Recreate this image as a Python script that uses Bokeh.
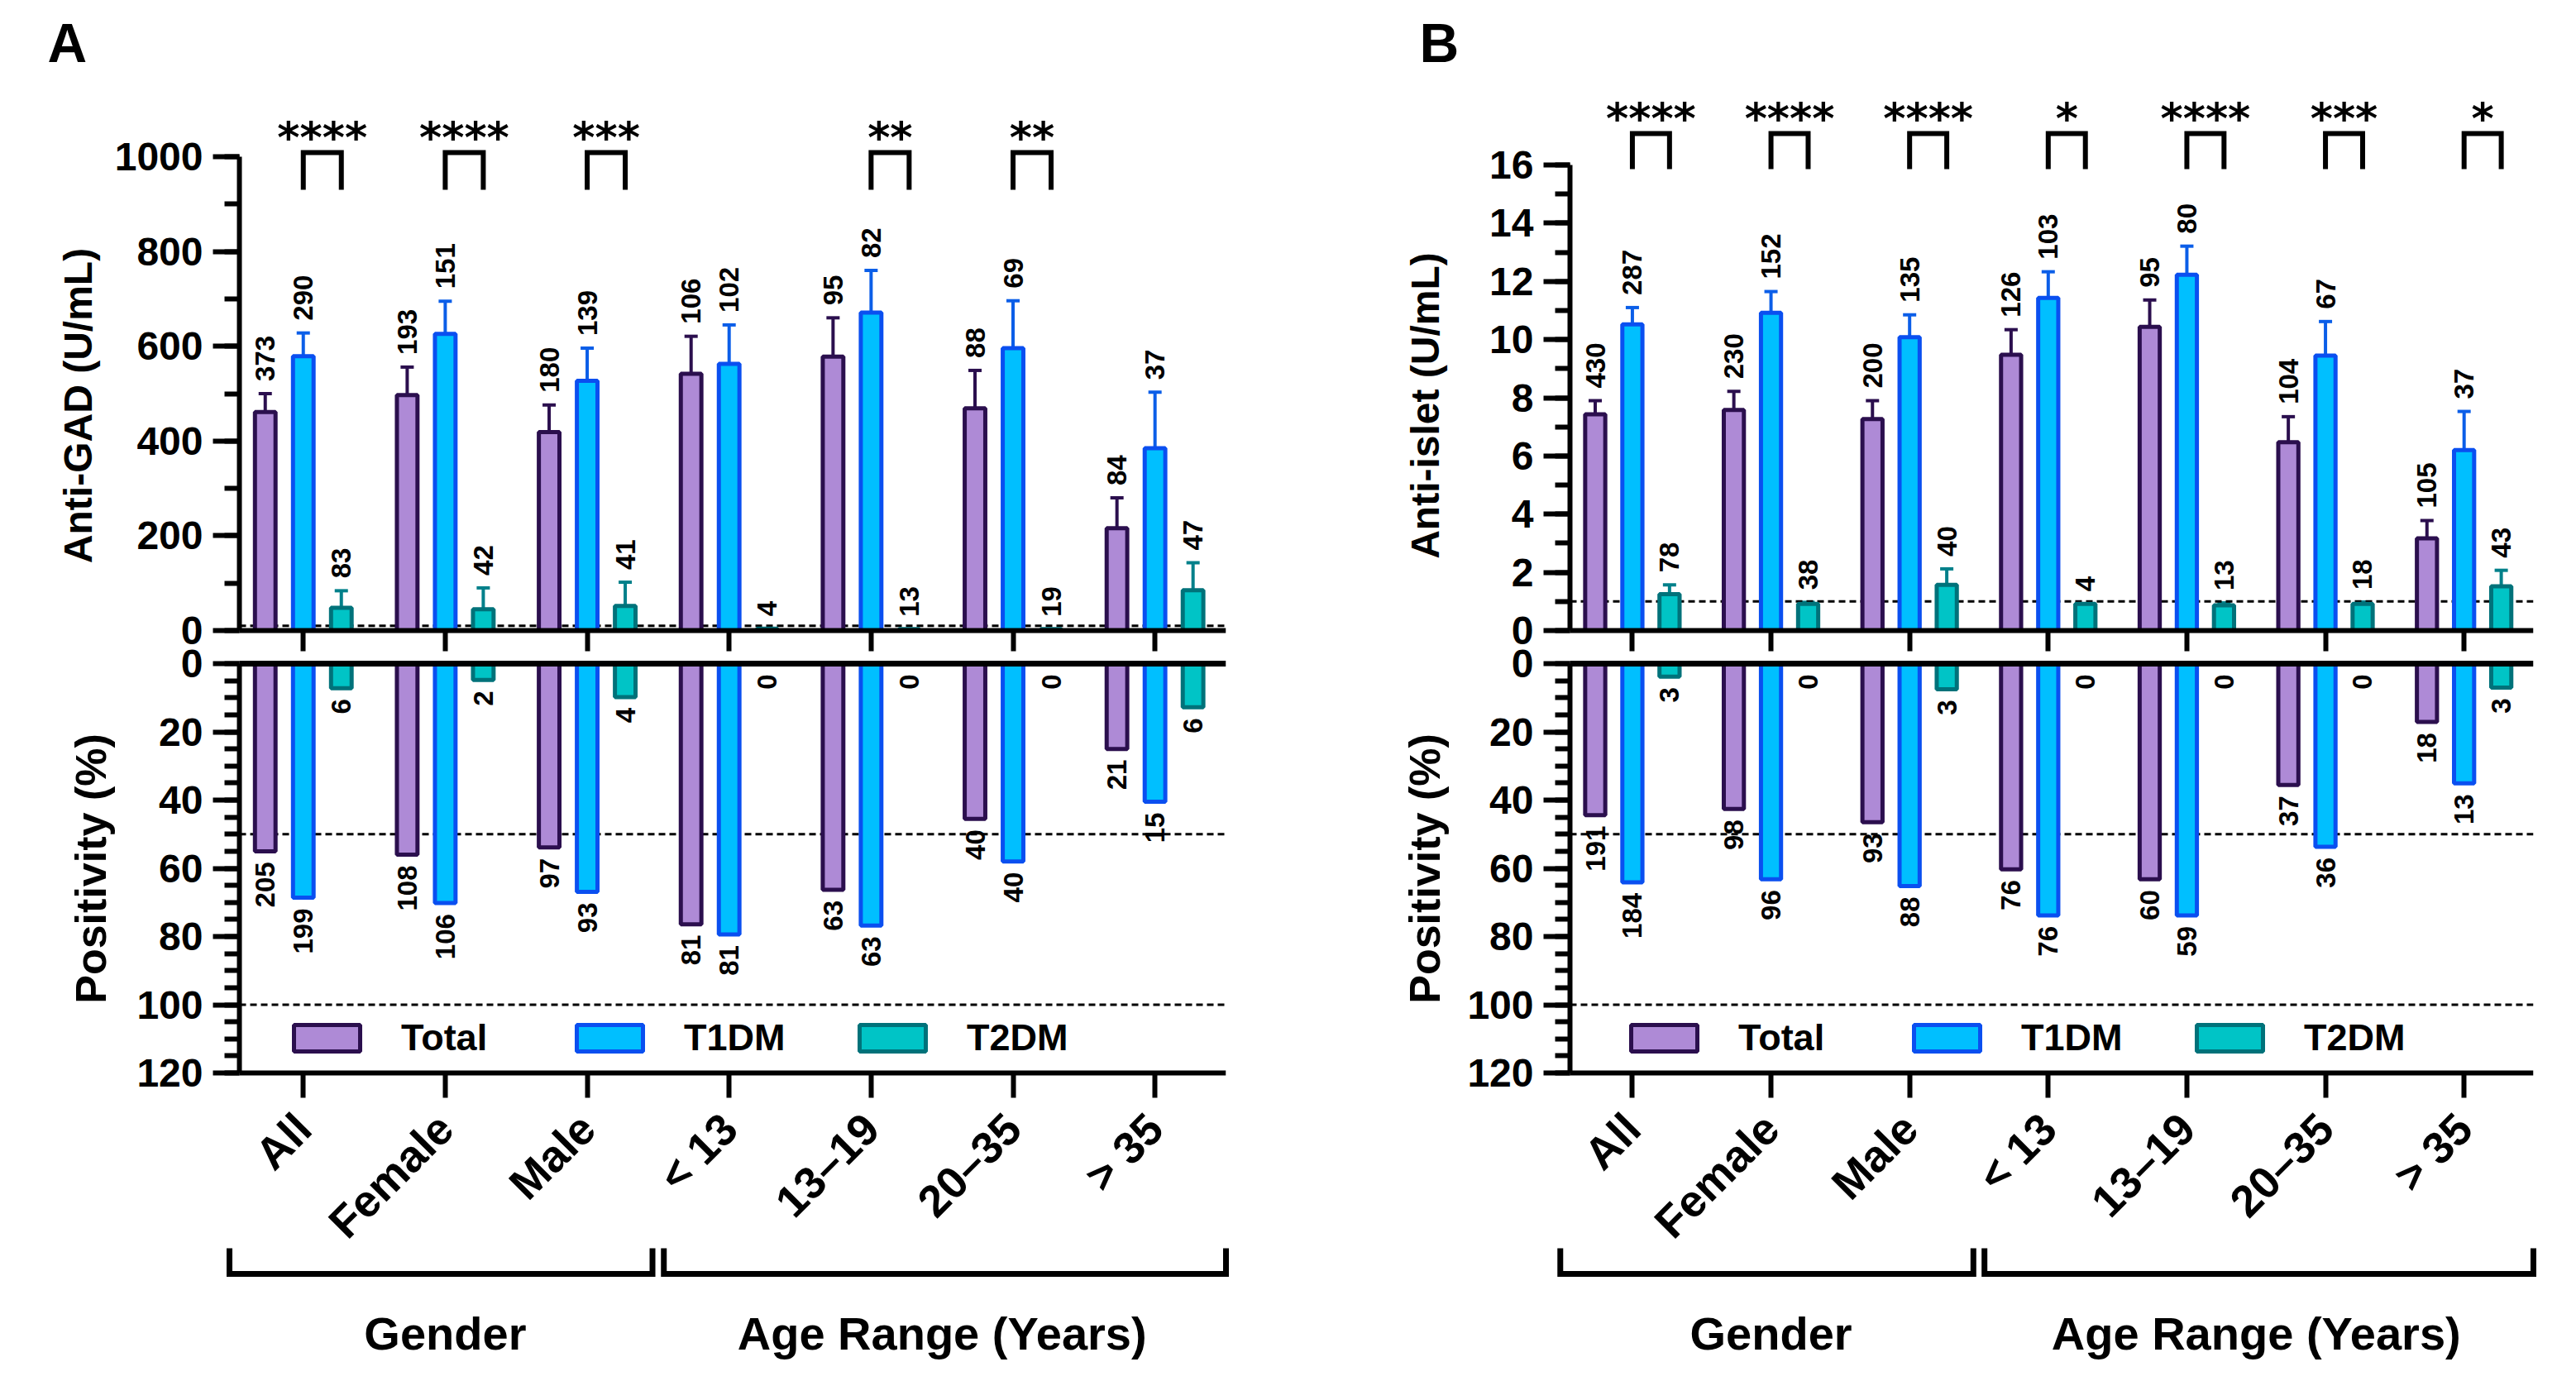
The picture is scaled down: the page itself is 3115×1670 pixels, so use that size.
import math
import numpy as np
from bokeh.plotting import figure
from bokeh.models import (ColumnDataSource, Range1d, FixedTicker, SingleIntervalTicker,
                          LinearAxis, Whisker, TeeHead, CustomLabelingPolicy)
from bokeh.layouts import row
from bokeh.core.properties import value
from bokeh.embed import file_html
from bokeh.resources import INLINE

# ---------------- data ----------------
categories = ["All", "Female", "Male", "< 13", "13–19", "20–35", "> 35"]
group_names = ["Gender", "Age Range (Years)"]
group_first = [0, 3]
group_last = [2, 6]
series = ["Total", "T1DM", "T2DM"]

# Panel A: Anti-GAD (U/mL), mean and SEM
gad_total = [461, 497, 419, 542, 578, 469, 216]
gad_total_sem = [39, 59, 57, 79, 82, 80, 64]
gad_t1 = [579, 626, 527, 563, 671, 596, 385]
gad_t1_sem = [49, 69, 69, 82, 89, 100, 118]
gad_t2 = [48, 45, 52, 4, 3, 3, 85]
gad_t2_sem = [36, 45, 50, 0, 0, 0, 58]
gad_n_total = [373, 193, 180, 106, 95, 88, 84]
gad_n_t1 = [290, 151, 139, 102, 82, 69, 37]
gad_n_t2 = [83, 42, 41, 4, 13, 19, 47]
gad_cutoff = 10
gad_stars = ["****", "****", "***", "", "**", "**", ""]

# Panel A: positivity (%)
gad_pos_total = [55.0, 56.0, 53.9, 76.4, 66.3, 45.5, 25.0]
gad_pos_t1 = [68.6, 70.2, 66.9, 79.4, 76.8, 58.0, 40.5]
gad_pos_t2 = [7.2, 4.8, 9.8, 0, 0, 0, 12.8]
gad_pos_n_total = [205, 108, 97, 81, 63, 40, 21]
gad_pos_n_t1 = [199, 106, 93, 81, 63, 40, 15]
gad_pos_n_t2 = [6, 2, 4, 0, 0, 0, 6]

# Panel B: Anti-islet (U/mL), mean and SEM
isl_total = [7.43, 7.58, 7.27, 9.48, 10.44, 6.47, 3.17]
isl_total_sem = [0.47, 0.64, 0.63, 0.86, 0.92, 0.88, 0.61]
isl_t1 = [10.52, 10.92, 10.08, 11.43, 12.23, 9.45, 6.20]
isl_t1_sem = [0.58, 0.73, 0.77, 0.90, 0.98, 1.17, 1.33]
isl_t2 = [1.25, 0.92, 1.57, 0.92, 0.87, 0.92, 1.52]
isl_t2_sem = [0.32, 0.05, 0.55, 0.0, 0.08, 0.06, 0.55]
isl_n_total = [430, 230, 200, 126, 95, 104, 105]
isl_n_t1 = [287, 152, 135, 103, 80, 67, 37]
isl_n_t2 = [78, 38, 40, 4, 13, 18, 43]
isl_cutoff = 1
isl_stars = ["****", "****", "****", "*", "****", "***", "*"]

# Panel B: positivity (%)
isl_pos_total = [44.4, 42.6, 46.5, 60.3, 63.2, 35.6, 17.1]
isl_pos_t1 = [64.1, 63.2, 65.2, 73.8, 73.8, 53.7, 35.1]
isl_pos_t2 = [3.8, 0, 7.5, 0, 0, 0, 7.0]
isl_pos_n_total = [191, 98, 93, 76, 60, 37, 18]
isl_pos_n_t1 = [184, 96, 88, 76, 59, 36, 13]
isl_pos_n_t2 = [3, 0, 3, 0, 0, 0, 3]

# ---------------- style ----------------
FONT = "Liberation Sans"
FILL = {"Total": "#AE8AD6", "T1DM": "#00BFFF", "T2DM": "#00C4C6"}
EDGE = {"Total": "#2B0F4E", "T1DM": "#0A4FF0", "T2DM": "#00727A"}
ERRC = {"Total": "#2B0F4E", "T1DM": "#0B5EE8", "T2DM": "#00808A"}
OFFS = {"Total": -0.268, "T1DM": 0.0, "T2DM": 0.268}
BAR_W = 0.145
XR = (-0.45, 6.5)          # category span between the y axis and the right end

# vertical layout in page pixels
PAGE_TOP = 8
FRAME_TOP, TOP_ZERO = 110, 770
POS_ZERO, POS_BOTTOM, PAGE_BOTTOM = 810, 1305, 1662
POS_PX = (POS_BOTTOM - POS_ZERO) / 120.0

HIDE_LABELS = CustomLabelingPolicy(
    code="for (let i = 0; i < indices.size; i++) { indices.unset(i) } return indices")


def style_axis(ax, tick_out=32, minor_out=18, size="48px"):
    ax.axis_line_width = 6
    ax.axis_line_color = "black"
    ax.major_tick_line_width = 6
    ax.minor_tick_line_width = 6
    ax.major_tick_line_color = "black"
    ax.minor_tick_line_color = "black"
    ax.major_tick_in = 0
    ax.minor_tick_in = 0
    ax.major_tick_out = tick_out
    ax.minor_tick_out = minor_out
    ax.major_label_text_font = FONT
    ax.major_label_text_font_style = "bold"
    ax.major_label_text_font_size = size
    ax.major_label_text_color = "black"


def make_panel(P):
    idx = np.arange(len(categories))
    W = P["w"]
    pxu = P["pxu"]
    frame_right = P["x0"] + W - P["br"]
    xscale = (frame_right - P["axis_px"]) / (XR[1] - XR[0])
    x_start = XR[0] - (P["axis_px"] - P["fl"]) / xscale

    def ty(px):                     # page pixel -> concentration value
        return (TOP_ZERO - px) / pxu

    def by(px):                     # page pixel -> positivity value
        return (px - POS_ZERO) / POS_PX

    def tx(px):                     # page pixel -> category coordinate
        return XR[0] + (px - P["axis_px"]) / xscale

    p = figure(width=W, height=PAGE_BOTTOM - PAGE_TOP,
               x_range=Range1d(x_start, XR[1]), y_range=Range1d(ty(PAGE_BOTTOM), ty(FRAME_TOP)),
               output_backend="svg", toolbar_location=None, title=None,
               y_axis_location=None,
               min_border_left=P["fl"] - P["x0"], min_border_right=P["br"],
               min_border_top=FRAME_TOP - PAGE_TOP, min_border_bottom=0)
    p.extra_y_ranges = {"pos": Range1d(start=by(PAGE_BOTTOM), end=by(FRAME_TOP))}
    p.grid.visible = False
    p.outline_line_color = None
    p.background_fill_color = "white"
    p.border_fill_color = "white"

    # ---- axes ----
    ya = LinearAxis(fixed_location=XR[0],
                    ticker=SingleIntervalTicker(interval=P["yint"], num_minor_ticks=2))
    style_axis(ya)
    ya.bounds = (0, P["ymax"])
    ya.major_label_standoff = 12
    p.add_layout(ya, "left")

    yb = LinearAxis(y_range_name="pos", fixed_location=XR[0],
                    ticker=SingleIntervalTicker(interval=20, num_minor_ticks=4))
    style_axis(yb)
    yb.bounds = (0, 120)
    yb.major_label_standoff = 12
    p.add_layout(yb, "left")

    xb = p.xaxis[0]
    xb.y_range_name = "pos"
    xb.fixed_location = 120
    xb.bounds = XR
    style_axis(xb, tick_out=30, minor_out=0, size="54px")
    xb.ticker = FixedTicker(ticks=list(range(len(categories))), minor_ticks=[])
    xb.major_label_overrides = {i: c for i, c in enumerate(categories)}
    xb.major_label_orientation = math.pi / 4
    xb.major_label_standoff = 28

    xa = LinearAxis(fixed_location=0, bounds=XR,
                    ticker=FixedTicker(ticks=list(range(len(categories))), minor_ticks=[]))
    style_axis(xa, tick_out=25, minor_out=0, size="1px")
    xa.major_label_policy = HIDE_LABELS
    xa.major_label_standoff = 0
    p.add_layout(xa, "below")

    xtop = LinearAxis(y_range_name="pos", fixed_location=0, bounds=XR,
                      ticker=FixedTicker(ticks=[], minor_ticks=[]))
    style_axis(xtop, tick_out=0, minor_out=0, size="1px")
    xtop.axis_line_width = 7
    xtop.major_label_standoff = 0
    p.add_layout(xtop, "above")

    # axis titles
    for text, (cxp, cyp), size in P["ytitles"]:
        p.text(x=[tx(cxp)], y=[ty(cyp)], text=[text], angle=math.pi / 2,
               text_align="center", text_baseline="middle", text_font=value(FONT),
               text_font_style="bold", text_font_size=size, text_color="black",
               level="overlay")

    # ---- reference lines ----
    p.segment(x0=[XR[0]], x1=[XR[1]], y0=[P["cut"]], y1=[P["cut"]],
              line_color="black", line_width=3, line_dash="8 5")
    p.segment(x0=[XR[0], XR[0]], x1=[XR[1], XR[1]], y0=[50, 100], y1=[50, 100],
              y_range_name="pos", line_color="black", line_width=3, line_dash="8 5")

    # ---- upper bars: concentration ----
    for s, vals, sem, ns in zip(series, P["means"], P["sems"], P["ns"]):
        vals = np.array(vals, float)
        sem = np.array(sem, float)
        x = idx + OFFS[s]
        src = ColumnDataSource(dict(x=x, top=vals, upper=vals + sem,
                                    lab=[str(n) for n in ns],
                                    laby=vals + sem + 15 / pxu))
        p.vbar(x="x", top="top", bottom=0, width=BAR_W, source=src,
               fill_color=FILL[s], line_color=EDGE[s], line_width=5)
        m = sem > 0
        wsrc = ColumnDataSource(dict(x=x[m], top=vals[m], upper=(vals + sem)[m]))
        p.add_layout(Whisker(source=wsrc, base="x", upper="upper", lower="top",
                             dimension="height", line_color=ERRC[s], line_width=4,
                             upper_head=TeeHead(size=16, line_color=ERRC[s], line_width=4),
                             lower_head=None))
        p.text(x="x", y="laby", text="lab", source=src, angle=math.pi / 2,
               text_align="left", text_baseline="middle", text_font=value(FONT),
               text_font_style="bold", text_font_size="33px", text_color="black")

    # significance brackets (T1DM vs T2DM)
    has = [i for i, st in enumerate(P["stars"]) if st]
    xs = [[i + OFFS["T1DM"], i + OFFS["T1DM"], i + OFFS["T2DM"], i + OFFS["T2DM"]] for i in has]
    ys = [[ty(P["br_bot_px"]), ty(P["br_top_px"]), ty(P["br_top_px"]), ty(P["br_bot_px"])] for _ in has]
    p.multi_line(xs=xs, ys=ys, line_color="black", line_width=6, line_join="miter",
                 level="overlay")
    p.text(x=[i + (OFFS["T1DM"] + OFFS["T2DM"]) / 2 for i in has],
           y=[ty(P["star_px"])] * len(has), text=[P["stars"][i] for i in has],
           text_align="center", text_baseline="alphabetic",
           text_font=value("DejaVu Sans"), text_font_style="bold",
           text_font_size="52px", text_color="black", level="overlay")

    # panel letter
    p.text(x=[tx(P["letter_px"])], y=[ty(59)], text=[P["letter"]], text_align="left",
           text_baseline="alphabetic", text_font=value(FONT), text_font_style="bold",
           text_font_size="66px", text_color="black", level="overlay")

    # ---- lower bars: positivity ----
    for s, vals, ns in zip(series, P["pos"], P["pos_n"]):
        vals = np.array(vals, float)
        x = idx + OFFS[s]
        src = ColumnDataSource(dict(x=x, top=vals, lab=[str(n) for n in ns],
                                    laby=vals + 13 / POS_PX))
        p.vbar(x="x", top="top", bottom=0, width=BAR_W, source=src, y_range_name="pos",
               fill_color=FILL[s], line_color=EDGE[s], line_width=5, legend_label=s)
        p.text(x="x", y="laby", text="lab", source=src, angle=math.pi / 2,
               y_range_name="pos", text_align="right", text_baseline="middle",
               text_font=value(FONT), text_font_style="bold", text_font_size="33px",
               text_color="black")

    lg = p.legend[0]
    lg.orientation = "horizontal"
    lg.location = (P["leg_px"] - P["fl"], 16 + PAGE_BOTTOM - POS_BOTTOM)
    lg.glyph_width = 100
    lg.glyph_height = 40
    lg.label_height = 40
    lg.label_width = 140
    lg.label_standoff = 40
    lg.spacing = 62
    lg.padding = 0
    lg.margin = 0
    lg.border_line_color = None
    lg.background_fill_alpha = 0
    lg.label_text_font = FONT
    lg.label_text_font_style = "bold"
    lg.label_text_font_size = "45px"
    lg.label_text_color = "black"

    # ---- group brackets below the category labels ----
    gxs, gys, cx = [], [], []
    for k, (f, l) in enumerate(zip(group_first, group_last)):
        lo = f - (0.52 if k == 0 else 0.46)
        hi = l + (0.46 if k == 0 else 0.50)
        gxs.append([lo, lo, hi, hi])
        gys.append([by(1517), by(1548), by(1548), by(1517)])
        cx.append((f + l) / 2)
    p.multi_line(xs=gxs, ys=gys, y_range_name="pos", line_color="black", line_width=7,
                 line_join="miter", level="overlay")
    p.text(x=cx, y=[by(1620)] * len(cx), text=group_names, y_range_name="pos",
           text_align="center", text_baseline="middle", text_font=value(FONT),
           text_font_style="bold", text_font_size="56px", text_color="black",
           level="overlay")
    return p


PA = dict(letter="A", letter_px=65, x0=8, w=1592, fl=138, axis_px=297, br=110,
          pxu=573 / 1000, ymax=1000, yint=200, cut=gad_cutoff,
          ytitles=[("Anti-GAD (U/mL)", (102, 498), "48px"),
                   ("Positivity (%)", (117, 1058), "52px")],
          means=[gad_total, gad_t1, gad_t2], sems=[gad_total_sem, gad_t1_sem, gad_t2_sem],
          ns=[gad_n_total, gad_n_t1, gad_n_t2], stars=gad_stars,
          br_top_px=192, br_bot_px=237, star_px=173,
          pos=[gad_pos_total, gad_pos_t1, gad_pos_t2],
          pos_n=[gad_pos_n_total, gad_pos_n_t1, gad_pos_n_t2], leg_px=353)

PB = dict(letter="B", letter_px=1724, x0=1600, w=1507, fl=1770, axis_px=1906, br=36,
          pxu=563 / 16, ymax=16, yint=2, cut=isl_cutoff,
          ytitles=[("Anti-islet (U/mL)", (1731, 498), "48px"),
                   ("Positivity (%)", (1730, 1058), "52px")],
          means=[isl_total, isl_t1, isl_t2], sems=[isl_total_sem, isl_t1_sem, isl_t2_sem],
          ns=[isl_n_total, isl_n_t1, isl_n_t2], stars=isl_stars,
          br_top_px=169, br_bot_px=212, star_px=150,
          pos=[isl_pos_total, isl_pos_t1, isl_pos_t2],
          pos_n=[isl_pos_n_total, isl_pos_n_t1, isl_pos_n_t2], leg_px=1970)

layout = row(make_panel(PA), make_panel(PB), spacing=0)

with open("out.html", "w") as fh:
    fh.write(file_html(layout, INLINE))
